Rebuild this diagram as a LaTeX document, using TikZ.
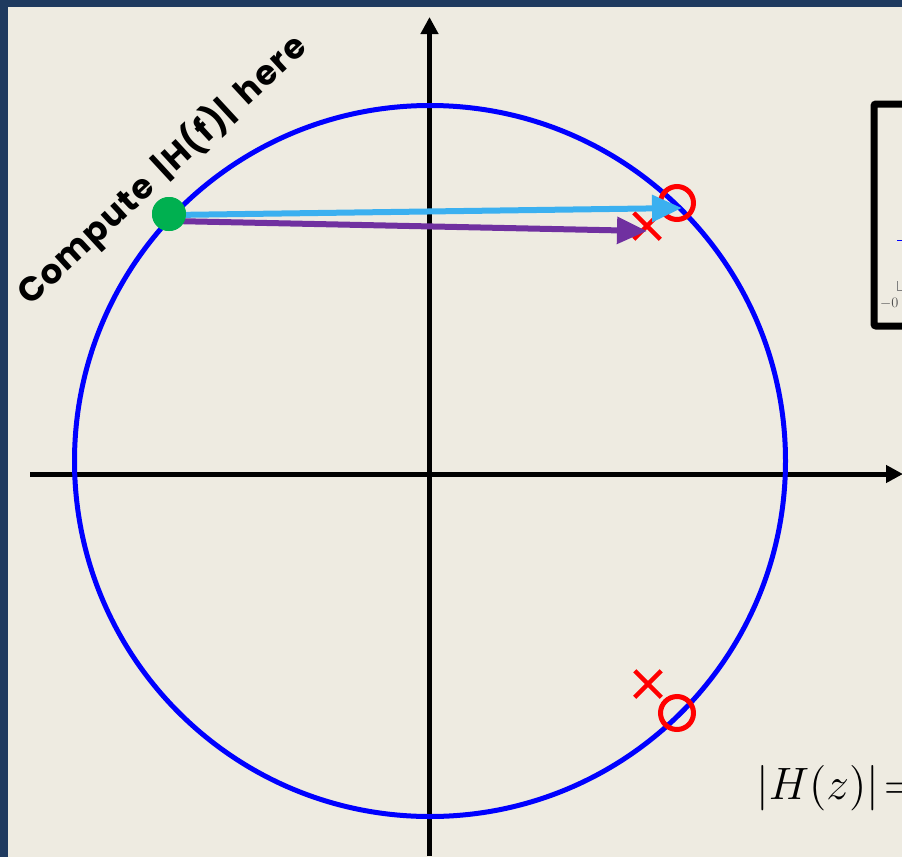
\documentclass[tikz,border=0pt]{standalone}
\usepackage{fontspec}
\newfontfamily\labelfont{Poppins}[LetterSpace=4,WordSpace=1.6]
\usetikzlibrary{arrows.meta,shapes.misc}
\definecolor{bg}{HTML}{EEEBE1}
\definecolor{framec}{HTML}{1F3A5F}
\definecolor{lblue}{HTML}{3BB0F0}
\definecolor{purp}{HTML}{7030A0}
\definecolor{grn}{HTML}{00B050}
\tikzset{
  axis/.style={line width=5pt, black, -{Triangle[length=17pt,width=17pt]}},
  zero/.style={circle, draw=red, line width=5pt, minimum size=33pt, inner sep=0pt},
  pole/.style={cross out, draw=red, line width=4.5pt, minimum size=22pt, inner sep=0pt},
  vec/.style={line width=6pt, -{Triangle[length=30pt,width=26pt]}},
}
\begin{document}
\begin{tikzpicture}[x=1pt,y=-1pt]
\useasboundingbox (0,0) rectangle (902,857);
\clip (0,0) rectangle (902,857);
\fill[bg] (0,0) rectangle (902,857);
\fill[framec] (0,0) rectangle (902,7);
\fill[framec] (0,0) rectangle (8,857);
% axes
\coordinate (xl) at (30,474);
\coordinate (xr) at (903,474);
\coordinate (yb) at (429.5,856);
\coordinate (yt) at (429.5,17);
\draw[axis] (xl) -- (xr);
\draw[axis] (yb) -- (yt);
% unit circle
\node[circle, draw=blue, line width=5pt, minimum size=711pt, inner sep=0pt] (uc) at (430,461) {};
% plot box (partially visible)
\node[draw, line width=7pt, rounded corners=2pt, minimum width=200pt, minimum height=222pt, anchor=north west] (plotbox) at (870.5,100.5) {};
\draw[blue, line width=1pt] (897,240.5) -- (903,240.5);
\draw[gray, line width=0.8pt] (897.5,281) -- (897.5,290.5) -- (903,290.5);
\node[anchor=base west, text=black!70, inner sep=0pt, font=\fontsize{14}{14}\selectfont] (tick) at (880,307) {$-0$};
% zeros and poles
\node[zero] (z1) at (677,203) {};
\node[zero] (z2) at (677,713) {};
\node[pole] (p1) at (647,226) {};
\node[pole] (p2) at (648,684) {};
% evaluation point
\node[circle, fill=grn, minimum size=34pt, inner sep=0pt] (ev) at (169,214) {};
\coordinate (bs) at (172,215);
\coordinate (bt) at (682,208);
\coordinate (ps) at (172,221);
\coordinate (pt) at (647,231);
\draw[vec, purp] (ps) -- (pt);
\draw[vec, lblue] (bs) -- (bt);
\node[circle, fill=grn, minimum size=34pt, inner sep=0pt] at (ev) {};
% label
\node[rotate=42.7, inner sep=0pt, font=\labelfont\bfseries\fontsize{34}{40}\selectfont] (lbl) at (162,170) {Compute |H(f)| here};
% formula
\node[anchor=base west, inner sep=0pt, font=\Large] (eq) at (756,799) {\scalebox{3.15}{$\left|H(z)\right|\mskip-3mu=$}};
\end{tikzpicture}
\end{document}
